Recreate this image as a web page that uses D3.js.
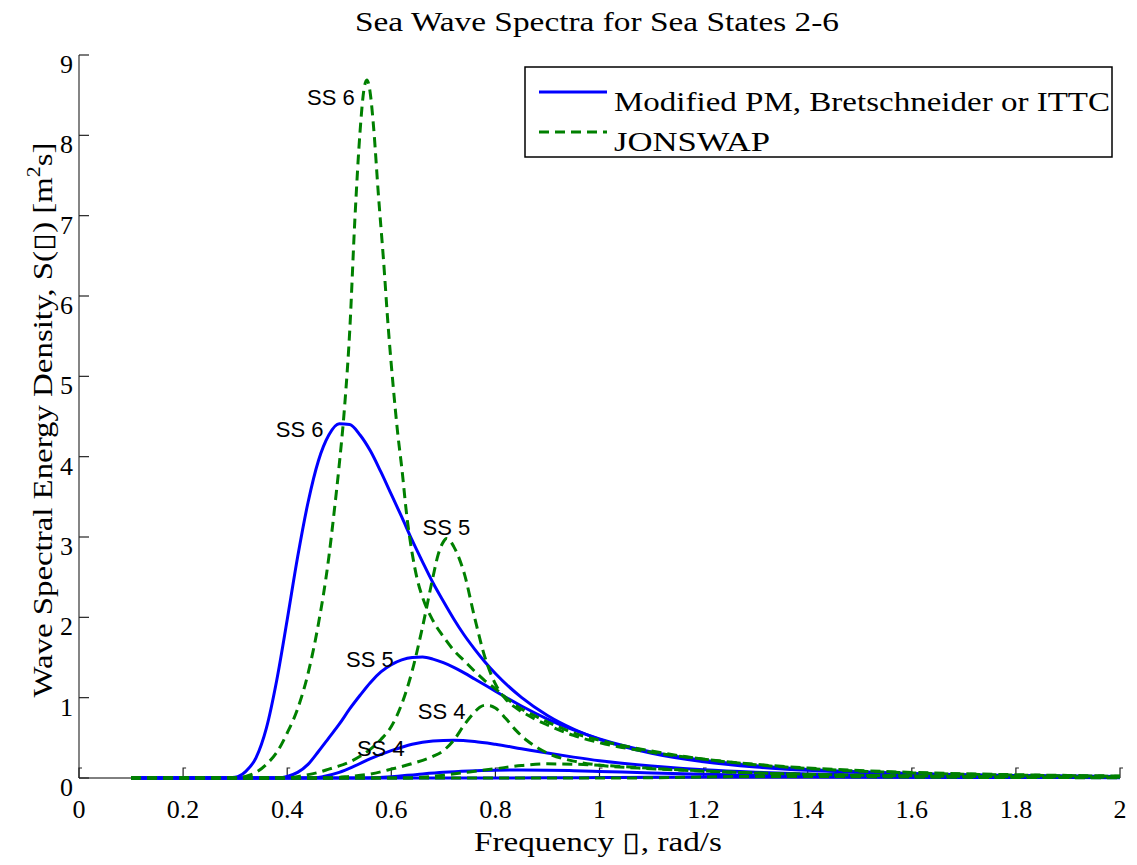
<!DOCTYPE html>
<html>
<head>
<meta charset="utf-8">
<script src="https://cdn.jsdelivr.net/npm/d3@7"></script>
<style>
  html, body { margin: 0; padding: 0; background: #fff; }
  svg { display: block; }
  text { font-family: "Times New Roman", "Liberation Serif", Tinos, serif; fill: #000; }
  text.ss { font-family: Arial, "Liberation Sans", sans-serif; font-size: 22px; }
</style>
</head>
<body>
<svg id="chart" width="1137" height="865"></svg>
<script>
// Modified Pierson-Moskowitz (Bretschneider / ITTC) spectra, [omega rad/s, S m^2 s]
const pmSS2 = [[0.1,0],[0.8,0],[0.9,0.002],[1.0,0.006],[1.1,0.010],[1.2,0.012],[1.3,0.012],[1.4,0.011],[1.6,0.008],[1.8,0.006],[2.0,0.004]];
const pmSS3 = [[0.1,0],[0.55,0],[0.6,0.015],[0.65,0.045],[0.7,0.072],[0.75,0.088],[0.8,0.097],[0.85,0.1],[0.9,0.098],[0.95,0.091],[1.0,0.082],[1.1,0.063],[1.2,0.047],[1.3,0.034],[1.4,0.025],[1.5,0.018],[1.6,0.014],[1.7,0.010],[1.8,0.008],[1.9,0.006],[2.0,0.005]];
const pmSS4 = [[0.1,0],[0.45,0],[0.47,0.02],[0.50,0.07],[0.53,0.15],[0.56,0.24],[0.60,0.34],[0.64,0.42],[0.68,0.46],[0.72,0.47],[0.76,0.455],[0.80,0.42],[0.85,0.365],[0.90,0.31],[0.95,0.26],[1.0,0.215],[1.1,0.15],[1.2,0.103],[1.3,0.072],[1.4,0.051],[1.5,0.037],[1.6,0.027],[1.7,0.020],[1.8,0.015],[1.9,0.012],[2.0,0.009]];
const pmSS5 = [[0.1,0],[0.38,0],[0.40,0.02],[0.42,0.07],[0.44,0.17],[0.46,0.33],[0.48,0.50],[0.50,0.67],[0.52,0.86],[0.54,1.03],[0.56,1.19],[0.58,1.32],[0.60,1.41],[0.62,1.47],[0.64,1.50],[0.66,1.505],[0.68,1.48],[0.70,1.435],[0.72,1.377],[0.74,1.308],[0.76,1.233],[0.78,1.157],[0.80,1.08],[0.85,0.896],[0.90,0.734],[0.95,0.598],[1.0,0.487],[1.1,0.324],[1.2,0.22],[1.3,0.152],[1.4,0.107],[1.5,0.077],[1.6,0.056],[1.7,0.042],[1.8,0.032],[1.9,0.024],[2.0,0.019]];
const pmSS6 = [[0.1,0],[0.28,0],[0.30,0.01],[0.32,0.08],[0.34,0.25],[0.36,0.62],[0.38,1.22],[0.40,1.97],[0.42,2.75],[0.44,3.43],[0.46,3.95],[0.48,4.27],[0.50,4.41],[0.52,4.40],[0.54,4.27],[0.56,4.07],[0.58,3.81],[0.60,3.53],[0.62,3.25],[0.64,2.96],[0.66,2.69],[0.68,2.43],[0.70,2.20],[0.72,1.98],[0.74,1.78],[0.76,1.605],[0.78,1.445],[0.80,1.30],[0.85,1.004],[0.90,0.779],[0.95,0.61],[1.0,0.481],[1.1,0.307],[1.2,0.202],[1.3,0.137],[1.4,0.095],[1.5,0.068],[1.6,0.049],[1.7,0.036],[1.8,0.027],[1.9,0.021],[2.0,0.016]];

// JONSWAP spectra
const jsSS2 = [[0.1,0],[1.05,0],[1.1,0.003],[1.2,0.012],[1.3,0.02],[1.4,0.02],[1.5,0.015],[1.6,0.011],[1.8,0.006],[2.0,0.004]];
const jsSS3 = [[0.1,0],[0.62,0],[0.66,0.01],[0.70,0.035],[0.75,0.075],[0.80,0.115],[0.85,0.155],[0.90,0.176],[0.95,0.172],[1.0,0.16],[1.05,0.14],[1.1,0.12],[1.2,0.088],[1.3,0.062],[1.4,0.045],[1.5,0.033],[1.6,0.025],[1.7,0.019],[1.8,0.015],[1.9,0.012],[2.0,0.009]];
const jsSS4 = [[0.1,0],[0.48,0],[0.52,0.02],[0.56,0.05],[0.60,0.11],[0.64,0.18],[0.68,0.27],[0.70,0.34],[0.72,0.47],[0.74,0.66],[0.76,0.82],[0.77,0.88],[0.78,0.905],[0.79,0.90],[0.80,0.87],[0.82,0.74],[0.84,0.59],[0.86,0.47],[0.88,0.38],[0.90,0.31],[0.95,0.21],[1.0,0.16],[1.1,0.115],[1.2,0.085],[1.3,0.063],[1.4,0.047],[1.5,0.035],[1.6,0.027],[1.7,0.02],[1.8,0.016],[1.9,0.012],[2.0,0.01]];
const jsSS5 = [[0.1,0],[0.40,0],[0.43,0.03],[0.46,0.07],[0.48,0.11],[0.50,0.15],[0.52,0.20],[0.54,0.27],[0.56,0.36],[0.58,0.48],[0.60,0.64],[0.62,0.92],[0.64,1.33],[0.66,1.88],[0.68,2.50],[0.69,2.78],[0.70,2.94],[0.706,2.98],[0.712,2.96],[0.72,2.88],[0.73,2.74],[0.74,2.55],[0.76,2.0],[0.78,1.50],[0.80,1.17],[0.82,0.98],[0.84,0.87],[0.86,0.79],[0.88,0.72],[0.90,0.66],[0.95,0.53],[1.0,0.44],[1.1,0.32],[1.2,0.235],[1.3,0.17],[1.4,0.125],[1.5,0.093],[1.6,0.07],[1.7,0.053],[1.8,0.041],[1.9,0.032],[2.0,0.025]];
const jsSS6 = [[0.1,0],[0.30,0],[0.32,0.02],[0.34,0.07],[0.36,0.17],[0.38,0.32],[0.40,0.56],[0.42,0.86],[0.44,1.30],[0.46,1.92],[0.48,2.75],[0.49,3.30],[0.50,3.90],[0.51,4.60],[0.52,5.55],[0.53,6.95],[0.54,8.05],[0.547,8.55],[0.553,8.69],[0.559,8.55],[0.566,8.10],[0.575,7.28],[0.585,6.45],[0.594,5.62],[0.604,4.85],[0.613,4.25],[0.62,3.87],[0.63,3.25],[0.64,2.80],[0.65,2.47],[0.66,2.25],[0.68,1.96],[0.70,1.76],[0.72,1.59],[0.74,1.46],[0.76,1.33],[0.78,1.21],[0.80,1.11],[0.84,0.90],[0.88,0.76],[0.92,0.64],[0.96,0.54],[1.0,0.47],[1.1,0.335],[1.2,0.235],[1.3,0.165],[1.4,0.118],[1.5,0.085],[1.6,0.063],[1.7,0.047],[1.8,0.036],[1.9,0.028],[2.0,0.022]];

const pmSeries = [pmSS2, pmSS3, pmSS4, pmSS5, pmSS6];
const jsSeries = [jsSS2, jsSS3, jsSS4, jsSS5, jsSS6];

// Sea-state annotations, placed in data units (left edge of text, baseline)
const ssLabels = [
  { text: "SS 6", w: 0.438, s: 8.38 },
  { text: "SS 6", w: 0.378, s: 4.24 },
  { text: "SS 5", w: 0.660, s: 3.02 },
  { text: "SS 5", w: 0.513, s: 1.38 },
  { text: "SS 4", w: 0.651, s: 0.74 },
  { text: "SS 4", w: 0.534, s: 0.28 }
];

const xTicks = [0, 0.2, 0.4, 0.6, 0.8, 1, 1.2, 1.4, 1.6, 1.8, 2];
const yTicks = [0, 1, 2, 3, 4, 5, 6, 7, 8, 9];
const legendNames = ["Modified PM, Bretschneider or ITTC", "JONSWAP"];

const BLUE = "#0000ff", GREEN = "#008000";

const svg = d3.select("#chart");
svg.append("rect").attr("width", 1137).attr("height", 865).attr("fill", "#fff");

const x = d3.scaleLinear().domain([0, 2]).range([79, 1120]);
const y = d3.scaleLinear().domain([0, 9]).range([778, 55]);

// Title
svg.append("text").attr("x", 597).attr("y", 31).attr("text-anchor", "middle")
  .attr("font-size", 28).attr("textLength", 484).attr("lengthAdjust", "spacingAndGlyphs")
  .text("Sea Wave Spectra for Sea States 2-6");

// Left axis
svg.append("line").attr("x1", x(0)).attr("x2", x(0)).attr("y1", y(0)).attr("y2", y(9))
  .attr("stroke", "#666").attr("stroke-width", 1.6);
// Bottom baseline
svg.append("line").attr("x1", x(0)).attr("x2", x(2)).attr("y1", y(0)).attr("y2", y(0))
  .attr("stroke", "#000").attr("stroke-width", 1);

const yAxisG = svg.append("g");
yAxisG.selectAll("line").data(yTicks).join("line")
  .attr("x1", x(0)).attr("x2", x(0) + 10)
  .attr("y1", d => y(d)).attr("y2", d => y(d))
  .attr("stroke", "#222").attr("stroke-width", 1.2);
yAxisG.selectAll("text").data(yTicks).join("text")
  .attr("x", x(0) - 6).attr("y", d => y(d) + 18)
  .attr("text-anchor", "end").attr("font-size", 26)
  .text(d => d);

const xAxisG = svg.append("g");
xAxisG.selectAll("path").data(xTicks).join("path")
  .attr("d", d => `M${x(d)},${y(0)}V${y(0) - 10}h3`)
  .attr("fill", "none").attr("stroke", "#222").attr("stroke-width", 1.2);
xAxisG.selectAll("text").data(xTicks).join("text")
  .attr("x", d => x(d)).attr("y", y(0) + 40)
  .attr("text-anchor", "middle").attr("font-size", 26)
  .text(d => d);

// Axis titles
svg.append("text").attr("x", 598).attr("y", 851).attr("text-anchor", "middle")
  .attr("font-size", 27).attr("textLength", 248).attr("lengthAdjust", "spacingAndGlyphs")
  .text("Frequency \u25AF, rad/s");

const yl = svg.append("text")
  .attr("transform", "translate(52,420) rotate(-90)")
  .attr("text-anchor", "middle").attr("font-size", 27)
  .attr("textLength", 555).attr("lengthAdjust", "spacingAndGlyphs");
yl.append("tspan").text("Wave Spectral Energy Density, S(\u25AF) [m");
yl.append("tspan").attr("font-size", 18).attr("dy", -12).text("2");
yl.append("tspan").attr("dy", 12).text("s]");

// Curves
const line = d3.line().x(d => x(d[0])).y(d => y(d[1])).curve(d3.curveMonotoneX);

svg.append("g").selectAll("path").data(pmSeries).join("path")
  .attr("d", line).attr("fill", "none").attr("stroke", BLUE)
  .attr("stroke-width", 3).attr("stroke-linejoin", "round");

svg.append("g").selectAll("path").data(jsSeries).join("path")
  .attr("d", line).attr("fill", "none").attr("stroke", GREEN)
  .attr("stroke-width", 3).attr("stroke-dasharray", "10,6");

// Sea-state labels
svg.append("g").selectAll("text").data(ssLabels).join("text")
  .attr("class", "ss")
  .attr("x", d => x(d.w)).attr("y", d => y(d.s))
  .text(d => d.text);

// Legend
const lg = svg.append("g");
lg.append("rect").attr("x", 525).attr("y", 67).attr("width", 587).attr("height", 90)
  .attr("fill", "#fff").attr("stroke", "#000").attr("stroke-width", 1.5);
const legendColors = [BLUE, GREEN];
const legendDash = [null, "10,6"];
lg.selectAll("line.k").data(legendNames).join("line").attr("class", "k")
  .attr("x1", 539).attr("x2", 607)
  .attr("y1", (d, i) => 92 + i * 40).attr("y2", (d, i) => 92 + i * 40)
  .attr("stroke", (d, i) => legendColors[i]).attr("stroke-width", 3)
  .attr("stroke-dasharray", (d, i) => legendDash[i]);
lg.selectAll("text").data(legendNames).join("text")
  .attr("x", 614).attr("y", (d, i) => 111 + i * 40)
  .attr("font-size", 28)
  .attr("textLength", (d, i) => i === 0 ? 496 : 156)
  .attr("lengthAdjust", "spacingAndGlyphs")
  .text(d => d);
</script>
</body>
</html>
